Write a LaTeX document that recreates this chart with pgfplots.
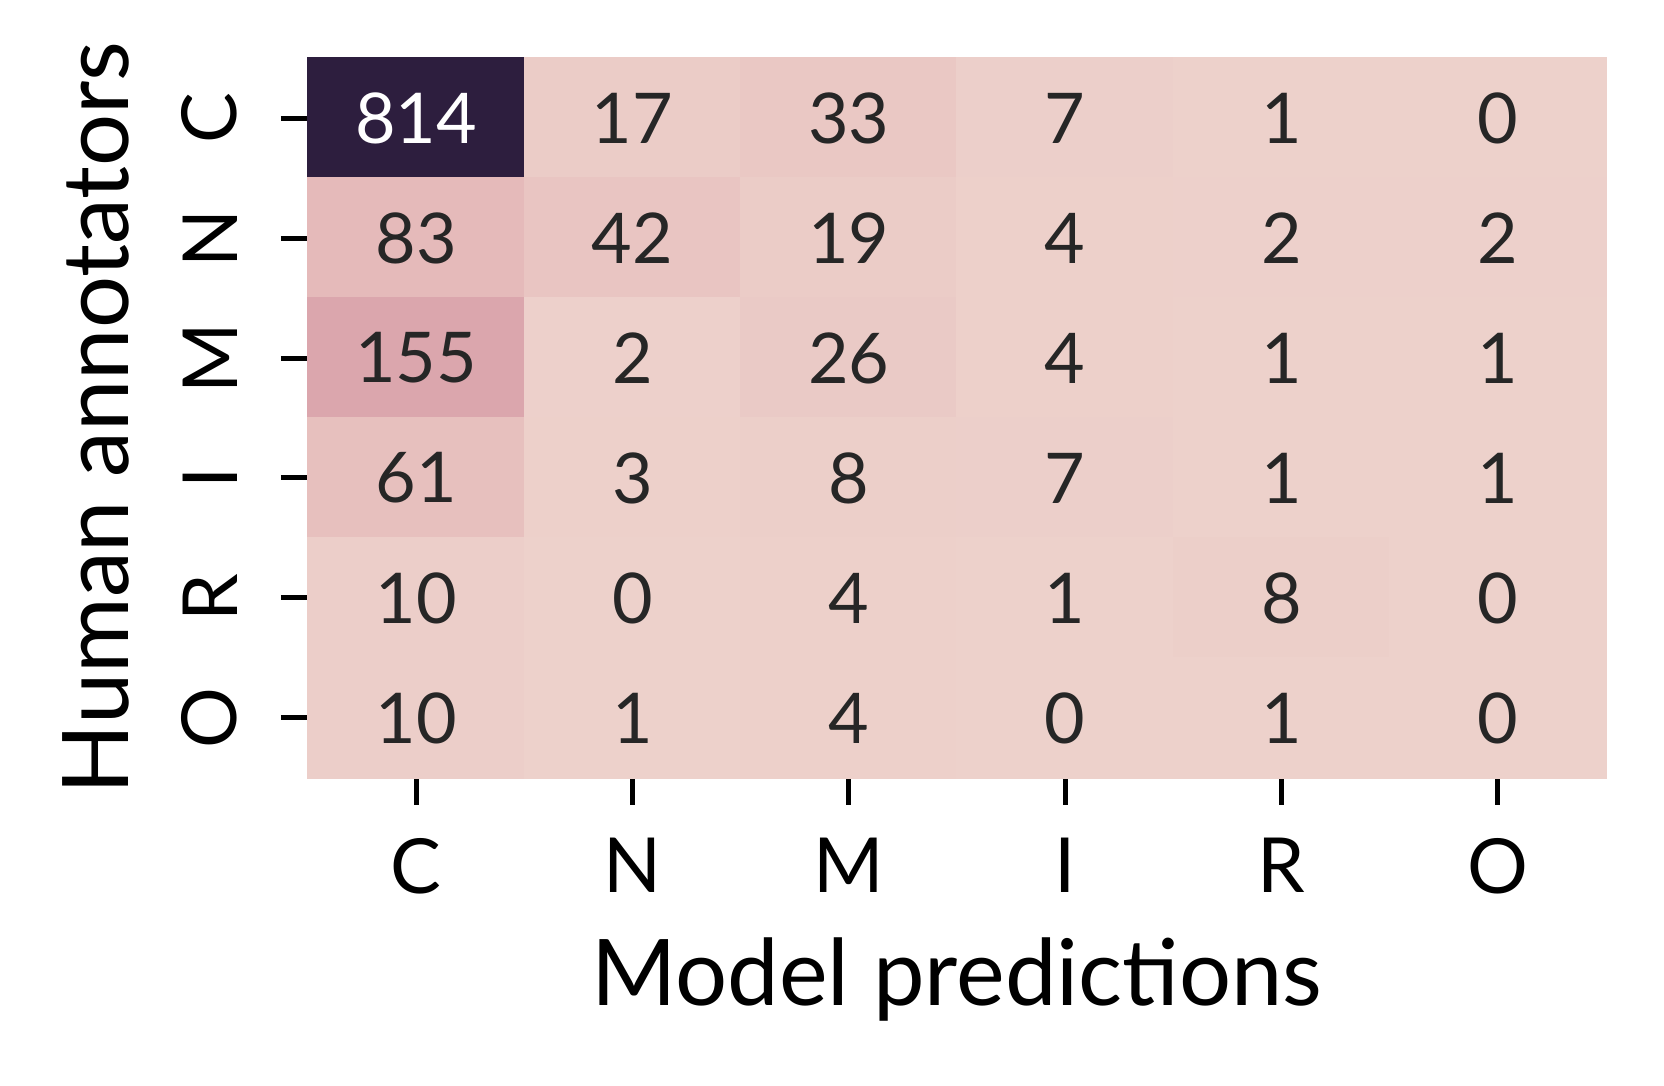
\documentclass[border=0pt]{standalone}
\usepackage{pgfplots}
\pgfplotsset{compat=1.18}
\usepackage{fontspec}
\setmainfont{Lato}
\definecolor{celltext}{HTML}{262626}
\begin{document}
\begin{tikzpicture}
\begin{axis}[
  name=ax,
  scale only axis,
  width=324.5pt, height=180pt,
  xmin=-0.5, xmax=5.5, ymin=-0.5, ymax=5.5,
  y dir=reverse,
  axis line style={draw=none},
  xtick={0,1,2,3,4,5}, ytick={0,1,2,3,4,5},
  xticklabels={C,N,M,I,R,O},
  yticklabels={C,N,M,I,R,O},
  xtick pos=lower, ytick pos=left,
  tick align=outside,
  major tick length=6.75pt,
  tick style={line width=1.25pt, black},
  ticklabel style={font=\fontsize{19}{19}\selectfont},
  xticklabel style={yshift=-4.75pt},
  yticklabel style={xshift=-7.4pt, rotate=90},
  xlabel={Model predictions},
  ylabel={Human annotators},
  xlabel shift=4pt,
  ylabel shift=6.3pt,
  label style={font=\fontsize{23}{23}\selectfont},
  colormap={ch}{rgb255=(237,209,203) rgb255=(229,186,186) rgb255=(218,164,172)
    rgb255=(205,142,161) rgb255=(189,122,152) rgb255=(170,103,143)
    rgb255=(147,86,133) rgb255=(123,71,120) rgb255=(97,57,105)
    rgb255=(70,43,85) rgb255=(45,30,62)},
  point meta min=0, point meta max=814,
  clip=false,
]
% confusion matrix (rows: human, cols: model)
\addplot[matrix plot*, mesh/cols=6, point meta=explicit] table[meta=v] {
x y v
0 0 814
1 0 17
2 0 33
3 0 7
4 0 1
5 0 0
0 1 83
1 1 42
2 1 19
3 1 4
4 1 2
5 1 2
0 2 155
1 2 2
2 2 26
3 2 4
4 2 1
5 2 1
0 3 61
1 3 3
2 3 8
3 3 7
4 3 1
5 3 1
0 4 10
1 4 0
2 4 4
3 4 1
4 4 8
5 4 0
0 5 10
1 5 1
2 5 4
3 5 0
4 5 1
5 5 0
};
% cell annotations
\addplot[only marks, mark=none, point meta=explicit symbolic,
  nodes near coords,
  nodes near coords style={anchor=center, text=celltext, font=\fontsize{17.5}{17.5}\selectfont}]
  table[meta=v] {
x y v
1 0 17
2 0 33
3 0 7
4 0 1
5 0 0
0 1 83
1 1 42
2 1 19
3 1 4
4 1 2
5 1 2
0 2 155
1 2 2
2 2 26
3 2 4
4 2 1
5 2 1
0 3 61
1 3 3
2 3 8
3 3 7
4 3 1
5 3 1
0 4 10
1 4 0
2 4 4
3 4 1
4 4 8
5 4 0
0 5 10
1 5 1
2 5 4
3 5 0
4 5 1
5 5 0
};
\addplot[only marks, mark=none, point meta=explicit symbolic,
  nodes near coords,
  nodes near coords style={anchor=center, text=white, font=\fontsize{17.5}{17.5}\selectfont}]
  table[meta=v] {
x y v
0 0 814
};
\end{axis}
\path[use as bounding box] ([xshift=-77pt, yshift=14.5pt]ax.north west) rectangle ([xshift=14.5pt, yshift=-77pt]ax.south east);
\end{tikzpicture}
\end{document}
